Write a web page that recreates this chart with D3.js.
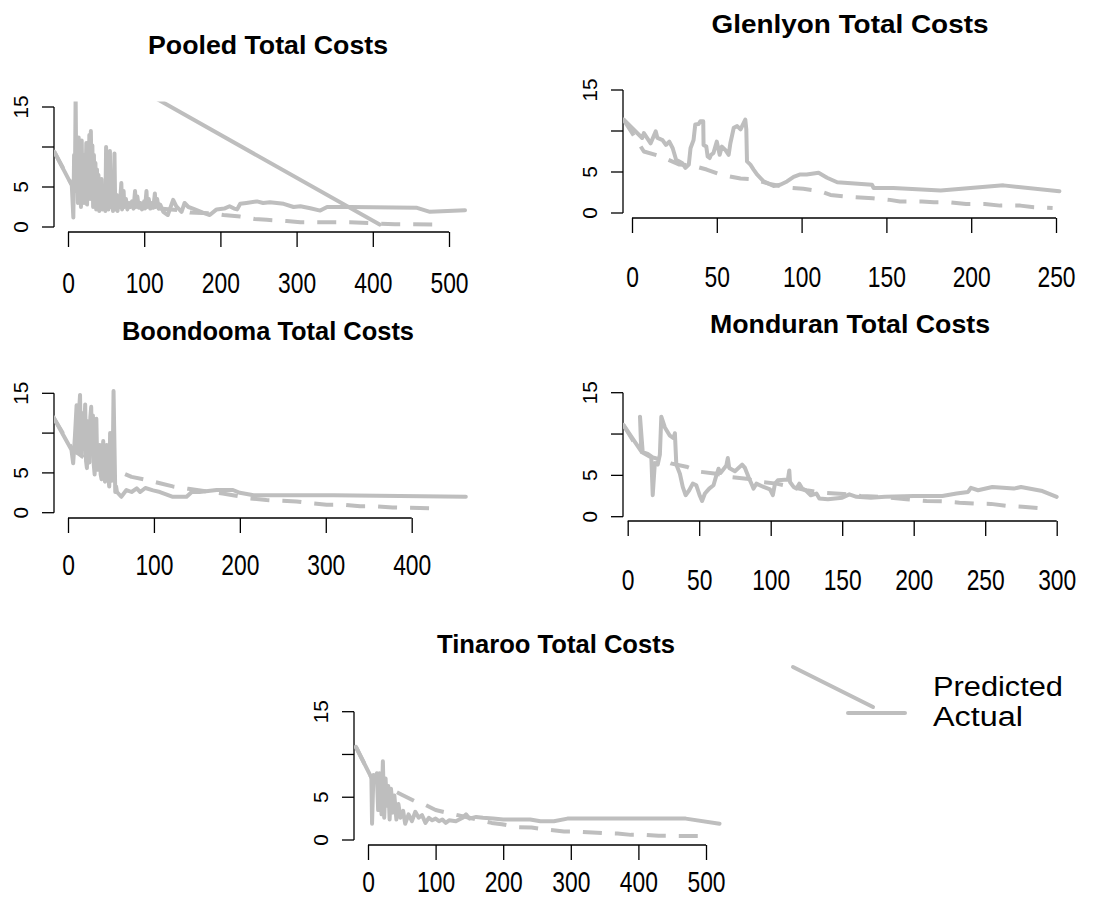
<!DOCTYPE html>
<html><head><meta charset="utf-8">
<script src="https://cdn.jsdelivr.net/npm/d3@7"></script>
<style>body{margin:0;background:#fff}svg{display:block}</style>
</head><body>
<svg id="c" width="1099" height="918"></svg>
<script>
// ---------- data ----------
const yTicks = [0, 5, 10, 15];
const yTickLabels = ["0", "5", "", "15"];
const pooledXTicks = [0, 100, 200, 300, 400, 500];
const glenlyonXTicks = [0, 50, 100, 150, 200, 250];
const boondoomaXTicks = [0, 100, 200, 300, 400];
const monduranXTicks = [0, 50, 100, 150, 200, 250, 300];
const tinarooXTicks = [0, 100, 200, 300, 400, 500];
const seriesNames = ["Predicted", "Actual"];

const pooledActual = [[-18,9.4],[5,5.2],[7,1.2],[8,9.0],[9,4.5],[10,16.5],[11,5.0],[12,8.5],[13,3.0],[14,11.2],[15,4.0],[16,9.5],[17,2.5],[18,10.8],[19,4.5],[20,7.5],[21,3.0],[22,9.0],[23,5.5],[24,10.5],[25,2.8],[26,8.0],[27,4.0],[28,11.5],[29,3.5],[30,12.0],[31,5.0],[32,10.2],[33,2.5],[34,9.0],[35,3.8],[36,8.0],[37,2.2],[38,7.2],[39,3.0],[40,6.5],[41,2.0],[42,5.5],[43,3.5],[44,6.0],[45,2.2],[46,5.0],[47,2.5],[48,4.5],[49,2.0],[50,10.0],[51,2.5],[52,6.0],[53,2.2],[54,4.5],[55,9.5],[56,2.5],[58,5.0],[59,2.0],[60,4.0],[61,9.2],[62,2.2],[64,4.0],[65,2.0],[67,3.5],[68,2.5],[70,5.5],[71,2.2],[73,4.5],[74,2.5],[76,3.5],[78,2.2],[80,3.0],[82,2.5],[84,3.2],[86,2.3],[88,4.5],[89,2.5],[91,3.8],[93,2.4],[95,3.0],[97,2.2],[100,3.2],[101,2.3],[103,4.5],[104,2.5],[106,3.5],[108,2.3],[110,3.0],[112,2.4],[114,4.2],[115,2.5],[117,3.5],[119,2.3],[121,2.8],[125,1.9],[131,1.5],[138,3.4],[142,2.6],[149,1.9],[153,3.0],[158,2.5],[164,2.3],[177,1.8],[186,1.5],[195,2.2],[205,2.3],[212,2.6],[218,2.3],[222,2.2],[226,2.9],[234,3.0],[248,3.2],[256,3.0],[265,3.1],[283,2.9],[296,2.5],[305,2.6],[318,2.35],[331,2.05],[340,2.5],[370,2.5],[458,2.4],[475,1.9],[521,2.1]];
const pooledPredicted = [[-18,9.4],[5,5.3],[20,4.5],[40,3.5],[60,3.0],[80,2.7],[100,2.5],[120,2.3],[147,2.1],[160,1.8],[189,1.7],[204,1.5],[226,1.3],[245,1.0],[261,0.9],[287,0.75],[305,0.6],[370,0.58],[429,0.35],[493,0.3]];
const pooledExtra = [[100,16.9],[409,0.3]];

const glenlyonActual = [[-5,11.4],[6,9.15],[7,9.75],[11,8.5],[14,9.95],[15,9.15],[18,8.9],[20,8.3],[22,8.7],[24,7.9],[26,6.5],[29.5,6.1],[31.5,5.5],[33.5,5.9],[34.5,7.9],[36.3,8.9],[37.3,10.8],[39.3,10.85],[40.3,11.2],[42,11.2],[42.2,8.3],[43.8,8.1],[44.6,6.9],[45.8,6.7],[46.6,7.1],[48,7.3],[50,8.7],[51.7,7.1],[53,8.1],[55,7.7],[57,7.1],[58,8.5],[60,10.4],[62,10.6],[64,10.2],[66.8,11.4],[67.4,10.2],[67.8,6.3],[69.8,5.9],[71.7,5.3],[73.7,4.7],[77.6,3.85],[83.5,3.3],[87.4,3.45],[91.4,3.85],[95.3,4.4],[99.2,4.7],[103,4.7],[110,4.9],[115,4.3],[121,3.75],[141.5,3.45],[142.5,3.05],[154,3.05],[182,2.75],[219,3.37],[252,2.65]];
const glenlyonPredicted = [[-5,11.4],[7,7.5],[17,6.9],[28,5.9],[35,5.8],[44,5.3],[52,4.7],[64,4.2],[72,4.1],[82,3.5],[92,3.1],[101,2.95],[111,2.65],[117,2.2],[127,2.0],[142,1.8],[152,1.6],[158,1.4],[171,1.4],[178,1.3],[187,1.3],[197,1.1],[208,1.1],[217,0.9],[229,0.9],[237,0.7],[248,0.6]];

const boondoomaActual = [[-17,12.0],[4,7.9],[6,6.2],[8,9.5],[10,13.5],[11,7.5],[12,11.0],[14,14.8],[15,8.0],[16,7.2],[17,12.5],[18,8.0],[20,13.6],[21,6.5],[22,5.6],[23,11.5],[24,7.0],[25,6.3],[26,12.0],[27,13.3],[28,7.5],[29,12.2],[30,6.0],[31,4.8],[32,10.0],[33,11.8],[34,6.0],[35,5.4],[36,8.0],[37,8.5],[38,4.8],[39,4.2],[41,9.0],[42,5.0],[43,3.9],[45,8.5],[46,5.5],[48,3.3],[49,10.0],[51,4.0],[52,5.5],[53,15.3],[55,2.6],[56,3.3],[57,2.6],[62,2.0],[68,2.85],[74,2.6],[80,3.05],[84,2.6],[90,3.1],[99,2.8],[107,2.6],[122,2.0],[138,2.0],[144,2.6],[153,2.6],[173,2.85],[192,2.85],[200,2.5],[216,2.2],[231,2.2],[309,2.2],[386,2.1],[463,2.0]];
const boondoomaPredicted = [[-17,12.0],[5,8.0],[20,6.8],[40,5.8],[57,5.3],[74,4.5],[88,4.2],[107,3.7],[122,3.3],[140,3.0],[160,2.7],[180,2.4],[192,2.2],[212,1.8],[231,1.6],[247,1.5],[266,1.4],[282,1.2],[301,1.0],[320,1.0],[340,0.8],[359,0.8],[378,0.65],[428,0.55]];

const monduranActual = [[-3,11.1],[9.5,7.9],[8.6,12.1],[10.5,7.8],[14,7.6],[16.5,7.3],[17.5,2.6],[19,6.5],[21,6.3],[22.5,7.5],[23.5,12.1],[26,10.8],[29.5,9.8],[32,9.5],[33,10.1],[34,6.3],[36.5,5.2],[38.5,3.6],[40.5,2.6],[43,3.2],[45.5,4.0],[48,3.8],[50.5,2.5],[52,1.9],[54,2.8],[57,3.4],[60,3.8],[62,5.0],[63.5,5.8],[65,5.3],[69,6.2],[70,7.1],[71,5.9],[75,5.5],[80,6.3],[82,5.9],[84.5,4.8],[87,3.8],[88,3.4],[90,4.0],[95,3.6],[99.5,3.3],[101.5,2.6],[103,4.0],[105,4.4],[112,4.5],[113,5.6],[113.5,4.2],[116,3.6],[118,3.4],[120,4.0],[122,3.4],[125,3.1],[128,2.6],[132,2.8],[134,2.2],[140,2.1],[150,2.3],[155,2.7],[160,2.4],[170,2.3],[180,2.4],[200,2.5],[220,2.5],[230,2.8],[238,3.0],[240,3.5],[245,3.2],[255,3.6],[270,3.4],[275,3.6],[290,3.1],[300,2.4]];
const monduranPredicted = [[-3,11.1],[8,8.0],[15,7.3],[25,6.8],[30,6.45],[41,6.05],[50,5.45],[62,5.2],[72,4.8],[83,4.6],[93,4.2],[104,4.0],[115,3.6],[125,3.2],[137,2.9],[151,2.75],[163,2.5],[172,2.45],[183,2.3],[195,2.1],[209,1.9],[221,1.85],[232,1.7],[243,1.6],[254,1.55],[266,1.3],[276,1.2],[290,1.0]];

const tinarooActual = [[-18,10.9],[5,7.3],[6,1.9],[8,7.6],[11,7.0],[13,7.8],[15,3.5],[17,7.8],[20,3.0],[22,9.2],[24,2.6],[26,7.2],[28,4.0],[30,6.3],[32,2.4],[34,6.0],[37,3.2],[39,5.2],[42,2.4],[45,4.2],[48,2.6],[52,3.4],[55,1.9],[60,3.0],[65,2.2],[70,3.3],[75,2.6],[80,2.9],[85,2.0],[90,2.6],[95,2.3],[100,2.5],[105,2.2],[110,2.4],[115,2.0],[120,2.3],[130,2.2],[140,2.6],[145,3.0],[150,2.5],[160,2.7],[170,2.6],[185,2.5],[200,2.4],[240,2.4],[255,2.2],[275,2.2],[295,2.5],[470,2.5],[520,1.9]];
const tinarooPredicted = [[-18,10.9],[5,7.3],[20,6.6],[36,5.85],[50,5.3],[70,4.5],[85,4.1],[100,3.5],[122,3.1],[150,2.6],[183,2.0],[198,1.85],[222,1.5],[242,1.45],[266,1.2],[290,1.0],[305,1.0],[325,0.9],[347,0.8],[369,0.75],[389,0.6],[411,0.6],[430,0.5],[494,0.45]];

// ---------- layout ----------
const GREY = "#bebebe";
const panels = [
  {id:"p", title:"Pooled Total Costs", tx:268, ty:54, tw:240, xTicks:pooledXTicks, xd:[0,500], xr:[68,449], yr:[227,107], axL:54, axB:232, right:482, labY:293, actual:pooledActual, predicted:pooledPredicted, extra:pooledExtra},
  {id:"g", title:"Glenlyon Total Costs", tx:850, ty:33, tw:277, xTicks:glenlyonXTicks, xd:[0,250], xr:[632,1056], yr:[213,90], axL:623, axB:218, right:1075, labY:287, actual:glenlyonActual, predicted:glenlyonPredicted},
  {id:"b", title:"Boondooma Total Costs", tx:268, ty:340, tw:292, xTicks:boondoomaXTicks, xd:[0,400], xr:[68,411.7], yr:[512.7,393.3], axL:54, axB:518, right:482, labY:575, actual:boondoomaActual, predicted:boondoomaPredicted},
  {id:"m", title:"Monduran Total Costs", tx:850, ty:333, tw:280, xTicks:monduranXTicks, xd:[0,300], xr:[627.7,1056.7], yr:[516.7,392.7], axL:623, axB:521, right:1075, labY:590, actual:monduranActual, predicted:monduranPredicted},
  {id:"t", title:"Tinaroo Total Costs", tx:556, ty:653, tw:238, xTicks:tinarooXTicks, xd:[0,500], xr:[368,706], yr:[840,711.7], axL:354, axB:845, right:730, labY:892, actual:tinarooActual, predicted:tinarooPredicted}
];

const svg = d3.select("#c");
const FONT = "'Liberation Sans', Arial, sans-serif";

function fitText(sel, w){ sel.attr("textLength", w).attr("lengthAdjust","spacingAndGlyphs"); }

panels.forEach(p => {
  const x = d3.scaleLinear().domain(p.xd).range(p.xr);
  const y = d3.scaleLinear().domain([0,15]).range(p.yr);
  const g = svg.append("g");
  const top = y(15.7);
  g.append("clipPath").attr("id","clip-"+p.id).append("rect")
    .attr("x", p.axL).attr("y", top).attr("width", p.right - p.axL).attr("height", p.axB - top);

  // title
  const t = g.append("text").attr("x", p.tx).attr("y", p.ty).attr("text-anchor","middle")
    .attr("font-family", FONT).attr("font-weight","bold").attr("font-size", 26).text(p.title);
  fitText(t, p.tw);

  // x axis
  const xa = g.append("g").attr("transform", `translate(0,${p.axB})`)
    .call(d3.axisBottom(x).tickValues(p.xTicks).tickSize(15).tickSizeOuter(0).tickFormat(d3.format("d")));
  xa.select(".domain").attr("stroke","#000").attr("stroke-width",1.3).attr("d", `M${x(p.xTicks[0])},0H${x(p.xTicks[p.xTicks.length-1])}`);
  xa.selectAll(".tick line").attr("stroke","#000").attr("stroke-width",1.3);
  xa.selectAll(".tick text").attr("y", p.labY - p.axB).attr("dy", 0).attr("font-family", FONT)
    .attr("font-size", 30).attr("fill","#000")
    .each(function(d){ const n = String(d).length; d3.select(this).attr("textLength", n*12.7).attr("lengthAdjust","spacingAndGlyphs"); });

  // y axis
  const ya = g.append("g").attr("transform", `translate(${p.axL},0)`)
    .call(d3.axisLeft(y).tickValues(yTicks).tickSize(12).tickSizeOuter(0).tickFormat((d,i)=>yTickLabels[i]));
  ya.select(".domain").attr("stroke","#000").attr("stroke-width",1.3).attr("d", `M0,${y(0)}V${y(15)}`);
  ya.selectAll(".tick line").attr("stroke","#000").attr("stroke-width",1.3);
  ya.selectAll(".tick text").attr("x", null).attr("dy", null)
    .attr("transform", d => `translate(-26,${y(d)}) rotate(-90)`)
    .attr("y", 0).attr("text-anchor","middle")
    .attr("font-family", FONT).attr("font-size", 20).attr("fill","#000")
    .each(function(d,i){ const n = yTickLabels[i].length; if (n) d3.select(this).attr("textLength", n*11.5).attr("lengthAdjust","spacingAndGlyphs"); });
  ya.selectAll(".tick").attr("transform", null);
  ya.selectAll(".tick line").attr("transform", d => `translate(0,${y(d)})`);

  const line = d3.line().x(d => x(d[0])).y(d => y(d[1]));
  const lg = g.append("g").attr("clip-path", `url(#clip-${p.id})`)
    .attr("fill","none").attr("stroke", GREY).attr("stroke-width", 4)
    .attr("stroke-linecap","round").attr("stroke-linejoin","round");
  lg.append("path").attr("d", line(p.predicted)).attr("stroke-dasharray","19,13").attr("stroke-linecap","butt");
  lg.append("path").attr("d", line(p.actual));
  if (p.extra) lg.append("path").attr("d", line(p.extra));
});

// legend
const legendLines = [[[793,667],[873,707]], [[848,713],[905,713]]];
const lgnd = svg.append("g");
lgnd.selectAll("path").data(legendLines).join("path")
  .attr("d", d => d3.line()(d)).attr("fill","none").attr("stroke", GREY).attr("stroke-width",4).attr("stroke-linecap","round");
lgnd.selectAll("text").data(seriesNames).join("text")
  .attr("x", 933).attr("y", (d,i) => 696 + i*30)
  .attr("font-family", FONT).attr("font-size", 27).text(d => d)
  .each(function(d){ d3.select(this).attr("textLength", d === "Predicted" ? 130 : 90).attr("lengthAdjust","spacingAndGlyphs"); });
</script>
</body></html>
